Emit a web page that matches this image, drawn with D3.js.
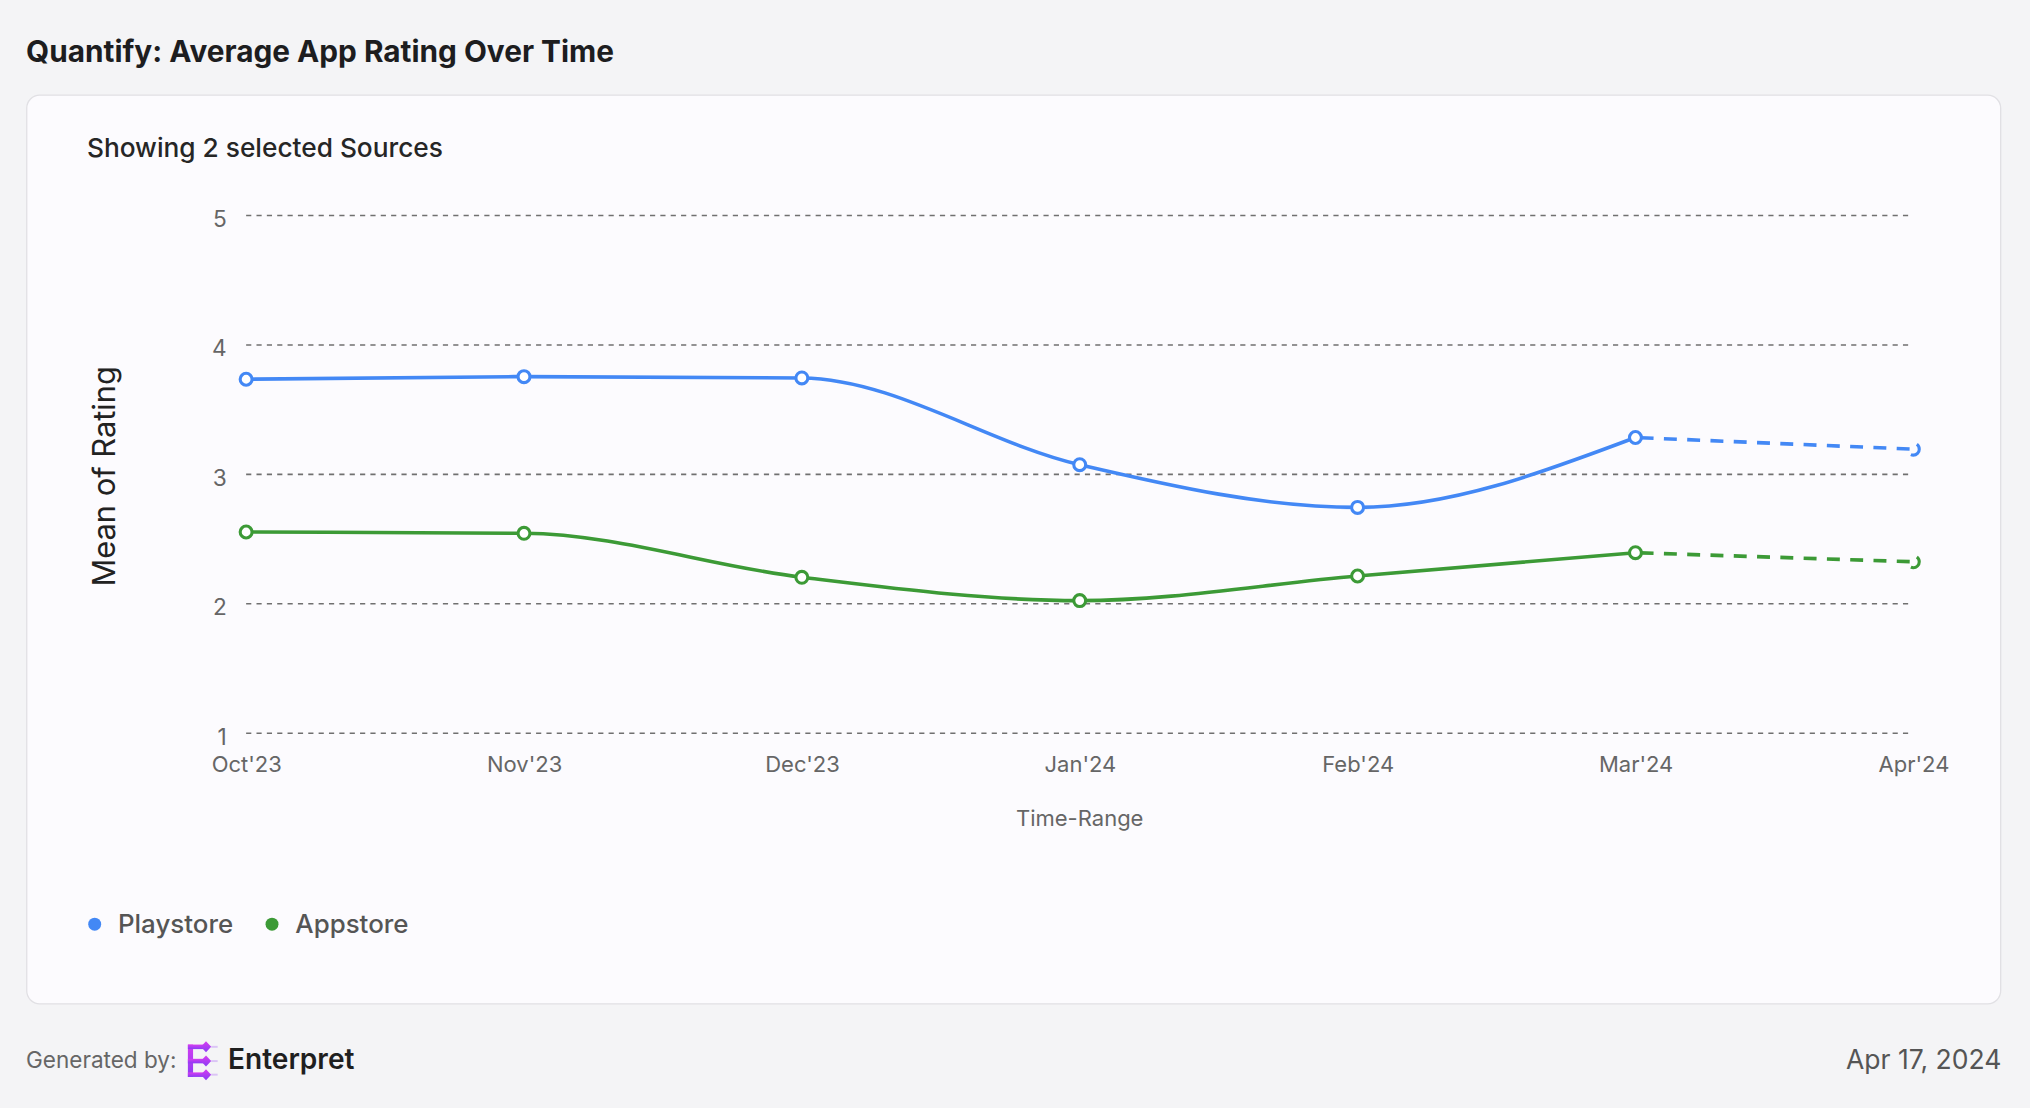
<!DOCTYPE html>
<html>
<head>
<meta charset="utf-8">
<script src="https://cdn.jsdelivr.net/npm/d3@7"></script>
<style>
  html, body { margin: 0; padding: 0; background: #f4f4f6; }
  svg { display: block; font-family: Inter, "Noto Sans", sans-serif; }
</style>
</head>
<body>
<div id="chart"></div>
<script>
// values
var months = ["Oct'23", "Nov'23", "Dec'23", "Jan'24", "Feb'24", "Mar'24", "Apr'24"];
var playstore = [3.73, 3.75, 3.74, 3.07, 2.74, 3.28, 3.19];
var appstore = [2.55, 2.54, 2.20, 2.02, 2.21, 2.39, 2.32];
var yTicks = [1, 2, 3, 4, 5];
var seriesNames = ["Playstore", "Appstore"];
var seriesColors = ["#4388f5", "#3c9a36"];

// layout is done in a 1568 x 856 frame and scaled up to the window
var W = 1568, H = 856;

var svg = d3.select('#chart').append('svg')
	.attr('width', 2030)
	.attr('height', 1108)
	.attr('viewBox', '0 0 ' + W + ' ' + H);

svg.append('rect').attr('width', W).attr('height', H).attr('fill', '#f4f4f6');

// title
svg.append('text')
	.attr('x', 20).attr('y', 48)
	.attr('font-size', 23).attr('font-weight', 700)
	.attr('fill', '#1d1d1f')
	.text('Quantify: Average App Rating Over Time');

// card
svg.append('rect')
	.attr('x', 20.5).attr('y', 73.5)
	.attr('width', 1525).attr('height', 702)
	.attr('rx', 10)
	.attr('fill', '#fcfbfe')
	.attr('stroke', '#e1e0e4');

svg.append('text')
	.attr('x', 67).attr('y', 121)
	.attr('font-size', 20.3).attr('font-weight', 500)
	.attr('fill', '#262626')
	.text('Showing 2 selected Sources');

var x = d3.scalePoint().domain(months).range([190, 1478]);
var y = d3.scaleLinear().domain([1, 5]).range([566, 166]);

// grid + y axis
var yAxis = svg.append('g')
	.attr('transform', 'translate(190,0)')
	.call(d3.axisLeft(y).tickValues(yTicks).tickSize(-1288).tickPadding(15).tickFormat(d3.format('d')));
yAxis.select('.domain').remove();
yAxis.selectAll('.tick line')
	.attr('stroke', '#707070')
	.attr('stroke-width', 1.2)
	.attr('stroke-dasharray', '4,4');
yAxis.selectAll('.tick text')
	.attr('font-size', 17.5).attr('fill', '#666')
	.attr('font-family', 'Inter, sans-serif')
	.attr('dy', '0.5em');

// x axis labels
var xAxis = svg.append('g')
	.attr('transform', 'translate(0,566)')
	.call(d3.axisBottom(x).tickSize(0).tickPadding(18));
xAxis.select('.domain').remove();
xAxis.selectAll('.tick text')
	.attr('font-size', 17).attr('fill', '#666')
	.attr('font-family', 'Inter, sans-serif');

svg.append('text')
	.attr('x', 834).attr('y', 638)
	.attr('text-anchor', 'middle')
	.attr('font-size', 17).attr('fill', '#666')
	.text('Time-Range');

svg.append('text')
	.attr('transform', 'translate(89,368) rotate(-90)')
	.attr('text-anchor', 'middle')
	.attr('font-size', 23.8).attr('fill', '#222')
	.text('Mean of Rating');

// lines
var line = d3.line()
	.x(function(d) { return x(d.m); })
	.y(function(d) { return y(d.v); })
	.curve(d3.curveMonotoneX);

[playstore, appstore].forEach(function(vals, si) {
	var pts = vals.map(function(v, i) { return {m: months[i], v: v}; });
	var color = seriesColors[si];
	var last = pts.length - 1;

	svg.append('path')
		.datum(pts.slice(0, last))
		.attr('d', line)
		.attr('fill', 'none')
		.attr('stroke', color)
		.attr('stroke-width', 2.8);

	//forecast part is dashed
	svg.append('path')
		.datum(pts.slice(last - 1))
		.attr('d', d3.line().x(function(d) { return x(d.m); }).y(function(d) { return y(d.v); }))
		.attr('fill', 'none')
		.attr('stroke', color)
		.attr('stroke-width', 2.8)
		.attr('stroke-dasharray', '10,8')
		.attr('stroke-dashoffset', -4);

	svg.selectAll(null)
		.data(pts)
		.enter().append('circle')
		.attr('cx', function(d) { return x(d.m); })
		.attr('cy', function(d) { return y(d.v); })
		.attr('r', 4.6)
		.attr('fill', '#fff')
		.attr('stroke', color)
		.attr('stroke-width', 2.4)
		.attr('fill-opacity', function(d, i) { return i === last ? 0 : 1; })
		.attr('stroke-dasharray', function(d, i) { return i === last ? '9,15,5' : null; });
});

// legend
var lx = [73, 210];
seriesNames.forEach(function(name, i) {
	svg.append('circle')
		.attr('cx', lx[i]).attr('cy', 714).attr('r', 5)
		.attr('fill', seriesColors[i]);
	svg.append('text')
		.attr('x', lx[i] + 18).attr('y', 721)
		.attr('font-size', 20).attr('font-weight', 500)
		.attr('fill', '#555')
		.text(name);
});

// footer
svg.append('text')
	.attr('x', 20).attr('y', 825)
	.attr('font-size', 17.4).attr('fill', '#666')
	.text('Generated by:');

var defs = svg.append('defs');
var grad = defs.append('linearGradient').attr('id', 'logoGrad')
	.attr('x1', 0).attr('y1', 0).attr('x2', 0).attr('y2', 1);
grad.append('stop').attr('offset', 0).attr('stop-color', '#d63cf0');
grad.append('stop').attr('offset', 1).attr('stop-color', '#8a3cf5');

var logo = svg.append('g').attr('transform', 'translate(145,807)');
logo.append('rect').attr('x', 0).attr('y', 0).attr('width', 4).attr('height', 25).attr('fill', 'url(#logoGrad)');
[0, 11, 21.5].forEach(function(dy) {
	logo.append('rect').attr('x', 0).attr('y', dy).attr('width', 14).attr('height', 3.5).attr('fill', 'url(#logoGrad)');
	logo.append('path')
		.attr('d', 'M14,' + (dy - 2.5) + ' L18,' + (dy + 1.75) + ' L14,' + (dy + 6) + ' L10,' + (dy + 1.75) + 'Z')
		.attr('fill', 'url(#logoGrad)');
	logo.append('rect').attr('x', 18).attr('y', dy + 1).attr('width', 5).attr('height', 1.5)
		.attr('fill', '#c9a4f5').attr('opacity', 0.6);
});

svg.append('text')
	.attr('x', 176).attr('y', 826)
	.attr('font-size', 21.7).attr('font-weight', 600)
	.attr('fill', '#1f1f1f')
	.text('Enterpret');

svg.append('text')
	.attr('x', 1546).attr('y', 826)
	.attr('text-anchor', 'end')
	.attr('font-size', 20.5).attr('fill', '#555')
	.text('Apr 17, 2024');
</script>
</body>
</html>
